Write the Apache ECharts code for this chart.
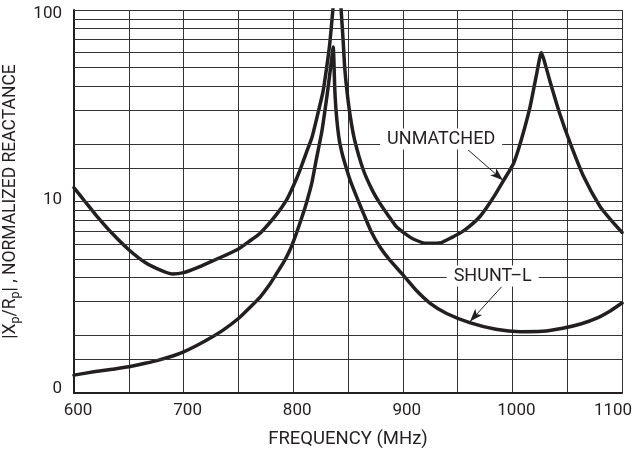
<!DOCTYPE html>
<html><head><meta charset="utf-8">
<script src="https://cdn.jsdelivr.net/npm/echarts@6/dist/echarts.min.js"></script>
<style>html,body{margin:0;padding:0;background:#fff}#c{width:633px;height:461px}</style>
</head><body><div id="c"></div><script>
// ---- data ----
const xLabels = [600, 700, 800, 900, 1000, 1100];
const yLabels = [1, 10, 100];
const yGridValues = [1.5,2,3,4,5,6,7,8,9,10,15,20,30,40,50,60,70,80,90,100];

const unmatchedFreq = [600,610,620,635,650,665,680,690,700,712,725,740,750,760,770,785,794,800,806,812,817,822,827,830.5,833.5,836.5,
  840,
  843.5,845.5,847,849,852,856,864,872,879,887,894,902,910,922,935,945,955,963,970,977,984,992,1001,1008,1016,1022,1026.5,1030,1034,1043,1053,1065,1080,1090,1100];
const unmatchedVal = [11.8,10.0,8.5,6.8,5.6,4.8,4.35,4.18,4.25,4.5,4.85,5.3,5.65,6.2,6.85,8.6,10.2,12.0,14.5,18,21.5,28,37,50,68,105,
  null,
  105,70,50,38,28,21,14.6,11.5,9.8,8.4,7.4,6.8,6.35,6.05,6.1,6.5,7.0,7.6,8.3,9.4,10.8,12.9,15.8,20.9,31,46,60,52,43,29,20,13.5,9.4,8.0,6.9];

const shuntFreq = [600,618,635,650,665,678,690,700,712,724,737,750,760,770,778,785,792,797,802,808,812,817,821,826,829,832,835,836.5,838,839.5,842,845,849,852,859,864,871,879,888,900,912,925,940,961,985,1007,1027,1046,1063,1077,1090,1100];
const shuntVal = [1.24,1.29,1.33,1.37,1.43,1.49,1.56,1.64,1.77,1.93,2.15,2.45,2.78,3.18,3.65,4.22,4.9,5.58,6.6,8.3,9.8,12.5,16.5,23,30,40,55,64,38,28,21,17.5,14.6,12.9,10.2,8.7,7.0,5.8,4.95,4.15,3.45,2.94,2.6,2.33,2.15,2.09,2.1,2.18,2.3,2.46,2.7,2.95];

const unmatchedLabel = { text: 'UNMATCHED', at: [935, 21.2] };
const unmatchedArrow = { from: [959.5, 18.6], to: [991.4, 12.9] };
const shuntLabel = { text: 'SHUNT\u2013L', at: [982, 4.08] };
const shuntArrow = { from: [990.2, 3.59], to: [961.3, 2.36] };

// ---- chart ----
const FONT = 'Roboto';
const INK = '#231f20';
const zip = (xs, ys) => xs.map((x, i) => [x, ys[i]]);
const tickText = { fontFamily: FONT, fontSize: 17, color: INK };

const chart = echarts.init(document.getElementById('c'), null, { renderer: 'canvas' });
chart.setOption({
  animation: false,
  backgroundColor: '#fff',
  grid: { left: 74, right: 11, top: 10, bottom: 68, containLabel: false, outerBoundsMode: 'none' },
  xAxis: {
    type: 'value', min: 600, max: 1100, interval: 50,
    name: 'FREQUENCY (MHz)', nameLocation: 'middle', nameGap: 37,
    nameTextStyle: { fontFamily: FONT, fontSize: 18.5, color: INK },
    axisLine: { show: true, lineStyle: { color: INK, width: 2 } },
    axisTick: { show: false },
    splitLine: { show: true, lineStyle: { color: '#333', width: 1 } },
    axisLabel: {
      ...tickText, margin: 9,
      rich: {
        r: { ...tickText, padding: [0, 0, 0, 8] },
        l: { ...tickText, padding: [0, 18, 0, 0] }
      },
      formatter: v => {
        const r = Math.round(v);
        if (!xLabels.includes(r)) return '';
        return r === xLabels[xLabels.length - 1] ? '{l|' + r + '}' : '{r|' + r + '}';
      }
    }
  },
  yAxis: {
    type: 'log', logBase: 10, min: 1, max: 100,
    name: '|X{sub|p}/R{sub|p}| , NORMALIZED REACTANCE', nameLocation: 'middle', nameGap: 42, nameRotate: 90,
    nameTextStyle: {
      fontFamily: FONT, fontSize: 17.5, color: INK, lineHeight: 22,
      rich: { sub: { fontFamily: FONT, fontSize: 12.5, color: INK, lineHeight: 22, padding: [10, 0, 0, 0] } }
    },
    axisLine: { show: true, lineStyle: { color: INK, width: 2 } },
    axisTick: { show: false },
    splitLine: { show: false },
    axisLabel: {
      ...tickText, margin: 12,
      rich: {
        top: { ...tickText, padding: [8, 0, 0, 0] },
        mid: { ...tickText, padding: [0, 0, 4, 0] },
        bot: { ...tickText, padding: [0, 0, 9, 0] }
      },
      formatter: v => {
        const r = Math.round(v);
        if (r === 1) return '{bot|0}';
        if (r === 10) return '{mid|10}';
        if (r === 100) return '{top|100}';
        return '';
      }
    }
  },
  series: [
    {
      type: 'line', data: [], z: 1, silent: true,
      markLine: {
        silent: true, symbol: ['none', 'none'], label: { show: false },
        lineStyle: { type: 'solid', color: '#333', width: 1 },
        data: yGridValues.map(v => ({ yAxis: v }))
      }
    },
    {
      name: 'UNMATCHED', type: 'line', data: zip(unmatchedFreq, unmatchedVal), z: 3,
      showSymbol: false, smooth: 0.2, connectNulls: false,
      lineStyle: { color: INK, width: 3.5, join: 'round', cap: 'round' }
    },
    {
      name: 'SHUNT-L', type: 'line', data: zip(shuntFreq, shuntVal), z: 3,
      showSymbol: false, smooth: 0.2,
      lineStyle: { color: INK, width: 3.5, join: 'round', cap: 'round' }
    },
    {
      type: 'line', data: [], z: 5, silent: true,
      markLine: {
        silent: true, symbol: ['none', 'arrow'], symbolSize: [7, 13], label: { show: false },
        lineStyle: { type: 'solid', color: INK, width: 1 },
        data: [
          [{ coord: unmatchedArrow.from }, { coord: unmatchedArrow.to }],
          [{ coord: shuntArrow.from }, { coord: shuntArrow.to }]
        ]
      },
      markPoint: {
        silent: true, symbol: 'rect', symbolSize: 0,
        label: {
          show: true, position: 'inside', fontFamily: FONT, fontSize: 18, color: INK,
          backgroundColor: '#fff', padding: [2, 7, 1, 7],
          formatter: p => p.name
        },
        data: [
          { name: unmatchedLabel.text, coord: unmatchedLabel.at },
          { name: shuntLabel.text, coord: shuntLabel.at }
        ]
      }
    }
  ]
});
</script></body></html>
